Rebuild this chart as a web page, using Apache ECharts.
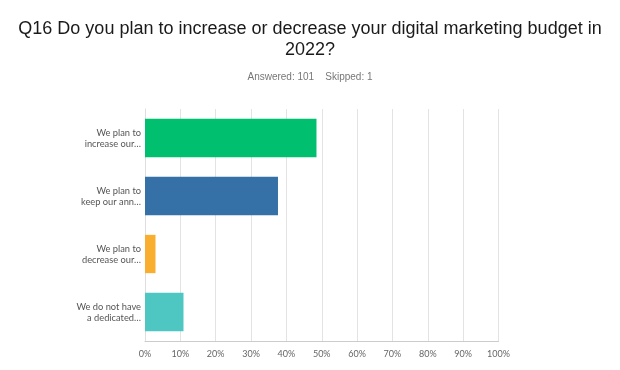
<!DOCTYPE html>
<html><head><meta charset="utf-8">
<script src="https://cdn.jsdelivr.net/npm/echarts@6/dist/echarts.min.js"></script>
<style>html,body{margin:0;padding:0;background:#fff}#c{width:620px;height:370px}</style>
</head><body><div id="c"></div>
<script>
const categories = ["We plan to\nincrease our…", "We plan to\nkeep our ann…", "We plan to\ndecrease our…", "We do not have\na dedicated…"];
const values = [48.51, 37.62, 2.97, 10.89];
const barColors = ["#00BF6F", "#3570A6", "#FAAE30", "#4EC6C2"];
const xTicks = [0, 10, 20, 30, 40, 50, 60, 70, 80, 90, 100];
const titleText = "Q16 Do you plan to increase or decrease your digital marketing budget in\n2022?";
const subText = "Answered: 101    Skipped: 1";

const chart = echarts.init(document.getElementById('c'), null, {renderer: 'canvas'});
chart.setOption({
  animation: false,
  title: [{
    text: titleText, left: 'center', top: 14,
    textStyle: {fontFamily: 'Liberation Sans', fontSize: 18, fontWeight: 'normal', color: '#1a1a1a', lineHeight: 21}
  }, {
    text: subText, left: 'center', top: 67,
    textStyle: {fontFamily: 'Liberation Sans', fontSize: 10, fontWeight: 'normal', color: '#777'}
  }],
  grid: {left: 145, right: 121.5, top: 109, bottom: 29, containLabel: false},
  xAxis: {
    type: 'value', min: 0, max: 100, interval: 10,
    axisLine: {show: true, lineStyle: {color: '#ccc'}},
    axisTick: {show: false},
    splitLine: {show: true, lineStyle: {color: '#e3e3e3'}},
    axisLabel: {formatter: v => v + '%', color: '#666', fontFamily: 'Lato', fontSize: 9, margin: 9}
  },
  yAxis: {
    type: 'category', data: categories, inverse: true,
    axisLine: {show: true, lineStyle: {color: '#ddd', type: 'dotted'}},
    axisTick: {show: false},
    axisLabel: {color: '#555', fontFamily: 'Lato', fontSize: 9.3, lineHeight: 11, margin: 4, align: 'right'}
  },
  series: [{
    type: 'bar', barCategoryGap: '34%',
    data: values.map((v, i) => ({value: v, itemStyle: {color: barColors[i]}}))
  }]
});
</script></body></html>
